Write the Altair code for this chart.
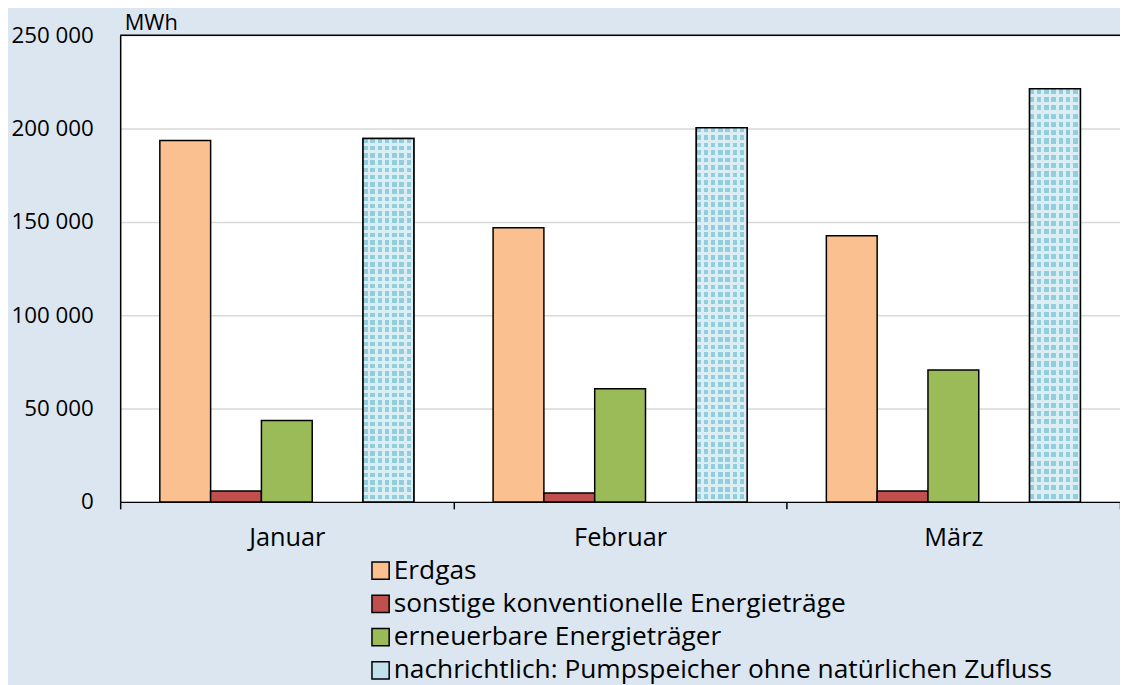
import altair as alt
import pandas as pd

months = ["Januar", "Februar", "März"]
series = [
    "Erdgas",
    "sonstige konventionelle Energieträge",
    "erneuerbare Energieträger",
    "nachrichtlich: Pumpspeicher ohne natürlichen Zufluss",
]
erdgas = [193600, 146800, 142600]
sonstige = [5800, 4800, 5800]
erneuerbar = [43600, 60600, 70700]
pump = [194700, 200500, 221300]
colors = ["#fac090", "#c0504d", "#9bbb59", "#c1e2ec"]
y_ticks = [0, 50000, 100000, 150000, 200000, 250000]

rows = []
for name, vals in zip(series, [erdgas, sonstige, erneuerbar, pump]):
    for m, v in zip(months, vals):
        rows.append({"Monat": m, "Reihe": name, "Wert": v})
df = pd.DataFrame(rows)
PUMP = series[3]

offset_domain = [series[0], series[1], series[2], "_gap", series[3]]
FONT = "Open Sans"

LIGHT = "#dbeef4"
DARK = "#93cddd"
CLEAR = "rgba(219,238,244,0)"


def stripes(n, frac, horizontal):
    stops = []
    for i in range(n):
        a = i / n
        b = (i + frac) / n
        c = (i + 1) / n
        stops += [alt.GradientStop(offset=a, color=CLEAR),
                  alt.GradientStop(offset=b, color=CLEAR),
                  alt.GradientStop(offset=b, color=LIGHT),
                  alt.GradientStop(offset=c, color=LIGHT)]
    if horizontal:
        return alt.LinearGradient(gradient="linear", stops=stops, x1=0, x2=1, y1=0, y2=0)
    return alt.LinearGradient(gradient="linear", stops=stops, x1=0, x2=0, y1=0, y2=1)


xenc = alt.X("Monat:N", sort=months, title=None,
             scale=alt.Scale(paddingInner=0, paddingOuter=0),
             axis=alt.Axis(tickBand="extent", labelAngle=0, domainColor="black",
                           domainWidth=1.5, tickColor="black", tickWidth=1.5,
                           tickSize=7, labelPadding=17, labelFontSize=25.5,
                           labelColor="black", grid=False, labelFont=FONT))
xoff = alt.XOffset("Reihe:N", scale=alt.Scale(domain=offset_domain,
                                              paddingInner=0, paddingOuter=0.78))
yenc = alt.Y("Wert:Q", scale=alt.Scale(domain=[0, 250000], nice=False),
             axis=alt.Axis(values=y_ticks, title="MWh", titleAngle=0, titleAlign="left",
                           titleBaseline="alphabetic", titleX=4, titleY=-6,
                           titleFontSize=22, titleFontWeight="normal", titleFont=FONT,
                           titleColor="black",
                           labelExpr="replace(format(datum.value, ',d'), ',', ' ')",
                           labelFontSize=22.5, labelFont=FONT, labelColor="black",
                           labelPadding=27, ticks=False, domainColor="black",
                           domainWidth=1.5, gridColor="#d9d9d9", gridWidth=1.5))

bars = alt.Chart(df).mark_bar(stroke="black", strokeWidth=1.5).encode(
    x=xenc, xOffset=xoff, y=yenc,
    color=alt.Color("Reihe:N", scale=alt.Scale(domain=series, range=colors),
                    legend=alt.Legend(title=None, orient="none", legendX=249, legendY=526,
                                      direction="vertical", symbolType="square",
                                      symbolSize=300, symbolStrokeColor="black",
                                      symbolStrokeWidth=1.5, labelFontSize=26.5,
                                      labelFont=FONT, labelColor="black",
                                      rowPadding=6.5, labelOffset=0, padding=0,
                                      labelLimit=1000)),
)

pump_base = alt.Chart(df).transform_filter(alt.datum.Reihe == PUMP)
dark = pump_base.mark_bar(fill=DARK, strokeWidth=0).encode(x=xenc, xOffset=xoff, y=yenc)
vstripes = pump_base.mark_bar(fill=stripes(7, 0.62, True), strokeWidth=0).encode(
    x=xenc, xOffset=xoff, y=yenc)
hstripes = pump_base.mark_bar(fill=stripes(50, 0.62, False), strokeWidth=0).encode(
    x=xenc, xOffset=xoff, y=yenc)
outline = pump_base.mark_bar(fill="transparent", stroke="black", strokeWidth=1.5).encode(
    x=xenc, xOffset=xoff, y=yenc)

top_line = alt.Chart(pd.DataFrame({"v": [250000]})).mark_rule(
    color="black", strokeWidth=1.5).encode(y=alt.Y("v:Q"))

chart = alt.layer(bars, dark, vstripes, hstripes, outline, top_line).properties(
    width=1007, height=470,
    background="#dce6f1",
    padding={"left": 113, "top": 25, "right": 0, "bottom": 182},
    autosize=alt.AutoSizeParams(type="none"),
).configure_view(fill="white", stroke=None)

chart.save("out.html", embed_options={"renderer": "svg", "actions": False})
